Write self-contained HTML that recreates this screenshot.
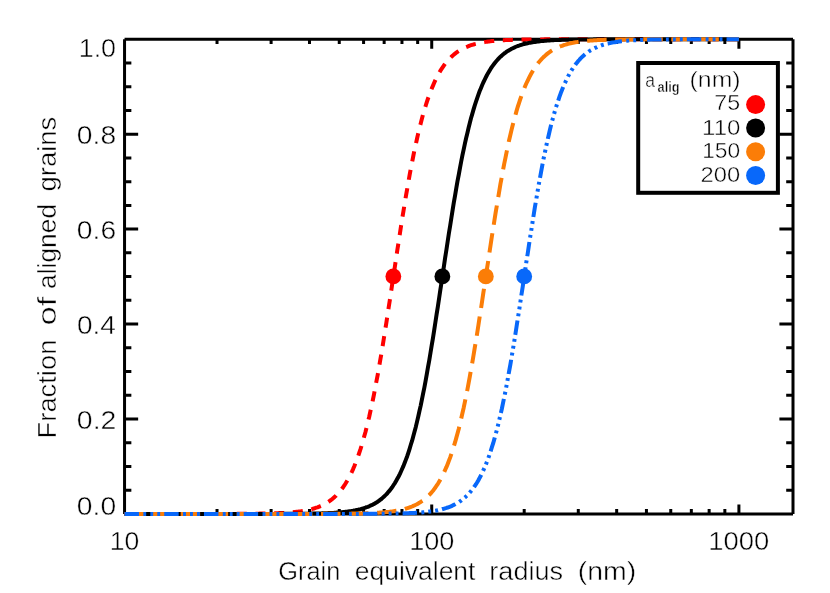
<!DOCTYPE html>
<html><head><meta charset="utf-8"><title>chart</title>
<style>
html,body{margin:0;padding:0;background:#fff;}
body{width:830px;height:593px;overflow:hidden;}
svg{display:block;will-change:transform;}
text{font-family:"Liberation Sans",sans-serif;fill:#000;stroke:#fff;stroke-width:0.45px;}
</style></head><body>
<svg width="830" height="593" viewBox="0 0 830 593">
<rect x="0" y="0" width="830" height="593" fill="#fff"/>
<path d="M124.55 39.25H793.0M793.0 39.25V513.9M793.0 513.9H124.55M124.55 513.9V39.25" fill="none" stroke="#000" stroke-width="3"/>
<path d="M217.02 513.9v-4.8M217.02 39.25v4.8M271.11 513.9v-4.8M271.11 39.25v4.8M309.49 513.9v-4.8M309.49 39.25v4.8M339.26 513.9v-4.8M339.26 39.25v4.8M363.58 513.9v-4.8M363.58 39.25v4.8M384.15 513.9v-4.8M384.15 39.25v4.8M401.96 513.9v-4.8M401.96 39.25v4.8M417.67 513.9v-4.8M417.67 39.25v4.8M431.73 513.9v-9.5M431.73 39.25v9.5M524.20 513.9v-4.8M524.20 39.25v4.8M578.29 513.9v-4.8M578.29 39.25v4.8M616.67 513.9v-4.8M616.67 39.25v4.8M646.44 513.9v-4.8M646.44 39.25v4.8M670.76 513.9v-4.8M670.76 39.25v4.8M691.33 513.9v-4.8M691.33 39.25v4.8M709.14 513.9v-4.8M709.14 39.25v4.8M724.85 513.9v-4.8M724.85 39.25v4.8M738.91 513.9v-9.5M738.91 39.25v9.5M124.55 490.17h6.8M793.0 490.17h-6.8M124.55 466.43h6.8M793.0 466.43h-6.8M124.55 442.70h6.8M793.0 442.70h-6.8M124.55 418.97h13.6M793.0 418.97h-13.6M124.55 395.24h6.8M793.0 395.24h-6.8M124.55 371.50h6.8M793.0 371.50h-6.8M124.55 347.77h6.8M793.0 347.77h-6.8M124.55 324.04h13.6M793.0 324.04h-13.6M124.55 300.31h6.8M793.0 300.31h-6.8M124.55 276.57h6.8M793.0 276.57h-6.8M124.55 252.84h6.8M793.0 252.84h-6.8M124.55 229.11h13.6M793.0 229.11h-13.6M124.55 205.38h6.8M793.0 205.38h-6.8M124.55 181.64h6.8M793.0 181.64h-6.8M124.55 157.91h6.8M793.0 157.91h-6.8M124.55 134.18h13.6M793.0 134.18h-13.6M124.55 110.45h6.8M793.0 110.45h-6.8M124.55 86.71h6.8M793.0 86.71h-6.8M124.55 62.98h6.8M793.0 62.98h-6.8" stroke="#000" stroke-width="3" fill="none"/>
<path d="M124.5 513.9 L125.8 513.9 L127.0 513.9 L128.2 513.9 L129.5 513.9 L130.7 513.9 L131.9 513.9 L133.2 513.9 L134.4 513.9 L135.6 513.9 L136.8 513.9 L138.1 513.9 L139.3 513.9 L140.5 513.9 L141.8 513.9 L143.0 513.9 L144.2 513.9 L145.4 513.9 L146.7 513.9 L147.9 513.9 L149.1 513.9 L150.4 513.9 L151.6 513.9 L152.8 513.9 L154.0 513.9 L155.3 513.9 L156.5 513.9 L157.7 513.9 L159.0 513.9 L160.2 513.9 L161.4 513.9 L162.6 513.9 L163.9 513.9 L165.1 513.9 L166.3 513.9 L167.6 513.9 L168.8 513.9 L170.0 513.9 L171.2 513.9 L172.5 513.9 L173.7 513.9 L174.9 513.9 L176.2 513.9 L177.4 513.9 L178.6 513.9 L179.8 513.9 L181.1 513.9 L182.3 513.9 L183.5 513.9 L184.8 513.9 L186.0 513.9 L187.2 513.9 L188.4 513.9 L189.7 513.9 L190.9 513.9 L192.1 513.9 L193.4 513.9 L194.6 513.9 L195.8 513.9 L197.0 513.9 L198.3 513.9 L199.5 513.9 L200.7 513.9 L202.0 513.9 L203.2 513.9 L204.4 513.9 L205.6 513.9 L206.9 513.9 L208.1 513.9 L209.3 513.9 L210.6 513.9 L211.8 513.9 L213.0 513.9 L214.2 513.9 L215.5 513.9 L216.7 513.9 L217.9 513.9 L219.2 513.9 L220.4 513.9 L221.6 513.9 L222.8 513.9 L224.1 513.9 L225.3 513.9 L226.5 513.9 L227.8 513.9 L229.0 513.9 L230.2 513.9 L231.4 513.8 L232.7 513.8 L233.9 513.8 L235.1 513.8 L236.4 513.8 L237.6 513.8 L238.8 513.8 L240.0 513.8 L241.3 513.8 L242.5 513.8 L243.7 513.8 L245.0 513.8 L246.2 513.8 L247.4 513.8 L248.7 513.8 L249.9 513.7 L251.1 513.7 L252.3 513.7 L253.6 513.7 L254.8 513.7 L256.0 513.7 L257.3 513.7 L258.5 513.7 L259.7 513.6 L260.9 513.6 L262.2 513.6 L263.4 513.6 L264.6 513.6 L265.9 513.5 L267.1 513.5 L268.3 513.5 L269.5 513.4 L270.8 513.4 L272.0 513.4 L273.2 513.3 L274.5 513.3 L275.7 513.3 L276.9 513.2 L278.1 513.2 L279.4 513.1 L280.6 513.1 L281.8 513.0 L283.1 512.9 L284.3 512.9 L285.5 512.8 L286.7 512.7 L288.0 512.6 L289.2 512.5 L290.4 512.4 L291.7 512.3 L292.9 512.2 L294.1 512.1 L295.3 512.0 L296.6 511.8 L297.8 511.7 L299.0 511.5 L300.3 511.4 L301.5 511.2 L302.7 511.0 L303.9 510.8 L305.2 510.6 L306.4 510.3 L307.6 510.1 L308.9 509.8 L310.1 509.5 L311.3 509.2 L312.5 508.9 L313.8 508.5 L315.0 508.1 L316.2 507.7 L317.5 507.3 L318.7 506.8 L319.9 506.3 L321.1 505.8 L322.4 505.2 L323.6 504.6 L324.8 504.0 L326.1 503.3 L327.3 502.6 L328.5 501.8 L329.7 500.9 L331.0 500.0 L332.2 499.1 L333.4 498.0 L334.7 496.9 L335.9 495.8 L337.1 494.5 L338.3 493.2 L339.6 491.8 L340.8 490.3 L342.0 488.7 L343.3 487.0 L344.5 485.2 L345.7 483.3 L346.9 481.3 L348.2 479.1 L349.4 476.8 L350.6 474.4 L351.9 471.8 L353.1 469.1 L354.3 466.2 L355.5 463.1 L356.8 459.9 L358.0 456.5 L359.2 453.0 L360.5 449.2 L361.7 445.3 L362.9 441.1 L364.1 436.8 L365.4 432.2 L366.6 427.4 L367.8 422.4 L369.1 417.2 L370.3 411.8 L371.5 406.2 L372.8 400.3 L374.0 394.3 L375.2 388.0 L376.4 381.5 L377.7 374.8 L378.9 367.9 L380.1 360.9 L381.4 353.6 L382.6 346.2 L383.8 338.7 L385.0 331.0 L386.3 323.2 L387.5 315.2 L388.7 307.2 L390.0 299.1 L391.2 291.0 L392.4 282.8 L393.6 274.7 L394.9 266.5 L396.1 258.3 L397.3 250.2 L398.6 242.2 L399.8 234.2 L401.0 226.3 L402.2 218.5 L403.5 210.9 L404.7 203.4 L405.9 196.1 L407.2 188.9 L408.4 182.0 L409.6 175.2 L410.8 168.6 L412.1 162.2 L413.3 156.0 L414.5 150.0 L415.8 144.3 L417.0 138.8 L418.2 133.4 L419.4 128.3 L420.7 123.5 L421.9 118.8 L423.1 114.3 L424.4 110.1 L425.6 106.0 L426.8 102.1 L428.0 98.5 L429.3 95.0 L430.5 91.7 L431.7 88.6 L433.0 85.6 L434.2 82.8 L435.4 80.1 L436.6 77.6 L437.9 75.3 L439.1 73.0 L440.3 70.9 L441.6 68.9 L442.8 67.1 L444.0 65.3 L445.2 63.7 L446.5 62.1 L447.7 60.7 L448.9 59.3 L450.2 58.0 L451.4 56.8 L452.6 55.7 L453.8 54.6 L455.1 53.6 L456.3 52.7 L457.5 51.8 L458.8 51.0 L460.0 50.2 L461.2 49.5 L462.4 48.9 L463.7 48.2 L464.9 47.6 L466.1 47.1 L467.4 46.6 L468.6 46.1 L469.8 45.6 L471.0 45.2 L472.3 44.8 L473.5 44.5 L474.7 44.1 L476.0 43.8 L477.2 43.5 L478.4 43.2 L479.6 43.0 L480.9 42.7 L482.1 42.5 L483.3 42.3 L484.6 42.1 L485.8 41.9 L487.0 41.7 L488.3 41.5 L489.5 41.4 L490.7 41.2 L491.9 41.1 L493.2 41.0 L494.4 40.9 L495.6 40.8 L496.9 40.7 L498.1 40.6 L499.3 40.5 L500.5 40.4 L501.8 40.3 L503.0 40.3 L504.2 40.2 L505.5 40.1 L506.7 40.1 L507.9 40.0 L509.1 40.0 L510.4 39.9 L511.6 39.9 L512.8 39.8 L514.1 39.8 L515.3 39.8 L516.5 39.7 L517.7 39.7 L519.0 39.7 L520.2 39.6 L521.4 39.6 L522.7 39.6 L523.9 39.6 L525.1 39.5 L526.3 39.5 L527.6 39.5 L528.8 39.5 L530.0 39.5 L531.3 39.5 L532.5 39.4 L533.7 39.4 L534.9 39.4 L536.2 39.4 L537.4 39.4 L538.6 39.4 L539.9 39.4 L541.1 39.4 L542.3 39.4 L543.5 39.4 L544.8 39.3 L546.0 39.3 L547.2 39.3 L548.5 39.3 L549.7 39.3 L550.9 39.3 L552.1 39.3 L553.4 39.3 L554.6 39.3 L555.8 39.3 L557.1 39.3 L558.3 39.3 L559.5 39.3 L560.7 39.3 L562.0 39.3 L563.2 39.3 L564.4 39.3 L565.7 39.3 L566.9 39.3 L568.1 39.3 L569.3 39.3 L570.6 39.3 L571.8 39.3 L573.0 39.3 L574.3 39.3 L575.5 39.3 L576.7 39.3 L577.9 39.3 L579.2 39.3 L580.4 39.3 L581.6 39.3 L582.9 39.3 L584.1 39.3 L585.3 39.3 L586.5 39.3 L587.8 39.3 L589.0 39.3 L590.2 39.3 L591.5 39.3 L592.7 39.3 L593.9 39.3 L595.1 39.3 L596.4 39.3 L597.6 39.3 L598.8 39.3 L600.1 39.3 L601.3 39.3 L602.5 39.3 L603.7 39.3 L605.0 39.3 L606.2 39.3 L607.4 39.3 L608.7 39.3 L609.9 39.3 L611.1 39.3 L612.4 39.3 L613.6 39.3 L614.8 39.3 L616.0 39.3 L617.3 39.3 L618.5 39.3 L619.7 39.3 L621.0 39.3 L622.2 39.3 L623.4 39.3 L624.6 39.3 L625.9 39.3 L627.1 39.3 L628.3 39.3 L629.6 39.3 L630.8 39.3 L632.0 39.3 L633.2 39.3 L634.5 39.3 L635.7 39.3 L636.9 39.3 L638.2 39.3 L639.4 39.3 L640.6 39.3 L641.8 39.3 L643.1 39.3 L644.3 39.3 L645.5 39.3 L646.8 39.3 L648.0 39.3 L649.2 39.3 L650.4 39.3 L651.7 39.3 L652.9 39.3 L654.1 39.3 L655.4 39.3 L656.6 39.3 L657.8 39.3 L659.0 39.3 L660.3 39.3 L661.5 39.3 L662.7 39.3 L664.0 39.3 L665.2 39.3 L666.4 39.3 L667.6 39.3 L668.9 39.3 L670.1 39.3 L671.3 39.3 L672.6 39.3 L673.8 39.3 L675.0 39.3 L676.2 39.3 L677.5 39.3 L678.7 39.3 L679.9 39.3 L681.2 39.3 L682.4 39.3 L683.6 39.3 L684.8 39.3 L686.1 39.3 L687.3 39.3 L688.5 39.3 L689.8 39.3 L691.0 39.3 L692.2 39.3 L693.4 39.3 L694.7 39.3 L695.9 39.3 L697.1 39.3 L698.4 39.3 L699.6 39.3 L700.8 39.3 L702.0 39.3 L703.3 39.3 L704.5 39.3 L705.7 39.3 L707.0 39.3 L708.2 39.3 L709.4 39.3 L710.6 39.3 L711.9 39.3 L713.1 39.3 L714.3 39.3 L715.6 39.3 L716.8 39.3 L718.0 39.3 L719.2 39.3 L720.5 39.3 L721.7 39.3 L722.9 39.3 L724.2 39.3 L725.4 39.3 L726.6 39.3 L727.8 39.3 L729.1 39.3 L730.3 39.3 L731.5 39.3 L732.8 39.3 L734.0 39.3 L735.2 39.3 L736.5 39.3 L737.7 39.3 L738.9 39.3" fill="none" stroke="#ff0000" stroke-width="4.0" stroke-dasharray="10.10 8.61" stroke-linejoin="round"/>
<path d="M124.5 513.9 L125.8 513.9 L127.0 513.9 L128.2 513.9 L129.5 513.9 L130.7 513.9 L131.9 513.9 L133.2 513.9 L134.4 513.9 L135.6 513.9 L136.8 513.9 L138.1 513.9 L139.3 513.9 L140.5 513.9 L141.8 513.9 L143.0 513.9 L144.2 513.9 L145.4 513.9 L146.7 513.9 L147.9 513.9 L149.1 513.9 L150.4 513.9 L151.6 513.9 L152.8 513.9 L154.0 513.9 L155.3 513.9 L156.5 513.9 L157.7 513.9 L159.0 513.9 L160.2 513.9 L161.4 513.9 L162.6 513.9 L163.9 513.9 L165.1 513.9 L166.3 513.9 L167.6 513.9 L168.8 513.9 L170.0 513.9 L171.2 513.9 L172.5 513.9 L173.7 513.9 L174.9 513.9 L176.2 513.9 L177.4 513.9 L178.6 513.9 L179.8 513.9 L181.1 513.9 L182.3 513.9 L183.5 513.9 L184.8 513.9 L186.0 513.9 L187.2 513.9 L188.4 513.9 L189.7 513.9 L190.9 513.9 L192.1 513.9 L193.4 513.9 L194.6 513.9 L195.8 513.9 L197.0 513.9 L198.3 513.9 L199.5 513.9 L200.7 513.9 L202.0 513.9 L203.2 513.9 L204.4 513.9 L205.6 513.9 L206.9 513.9 L208.1 513.9 L209.3 513.9 L210.6 513.9 L211.8 513.9 L213.0 513.9 L214.2 513.9 L215.5 513.9 L216.7 513.9 L217.9 513.9 L219.2 513.9 L220.4 513.9 L221.6 513.9 L222.8 513.9 L224.1 513.9 L225.3 513.9 L226.5 513.9 L227.8 513.9 L229.0 513.9 L230.2 513.9 L231.4 513.9 L232.7 513.9 L233.9 513.9 L235.1 513.9 L236.4 513.9 L237.6 513.9 L238.8 513.9 L240.0 513.9 L241.3 513.9 L242.5 513.9 L243.7 513.9 L245.0 513.9 L246.2 513.9 L247.4 513.9 L248.7 513.9 L249.9 513.9 L251.1 513.9 L252.3 513.9 L253.6 513.9 L254.8 513.9 L256.0 513.9 L257.3 513.9 L258.5 513.9 L259.7 513.9 L260.9 513.9 L262.2 513.9 L263.4 513.9 L264.6 513.9 L265.9 513.9 L267.1 513.9 L268.3 513.9 L269.5 513.9 L270.8 513.9 L272.0 513.9 L273.2 513.9 L274.5 513.9 L275.7 513.9 L276.9 513.9 L278.1 513.9 L279.4 513.8 L280.6 513.8 L281.8 513.8 L283.1 513.8 L284.3 513.8 L285.5 513.8 L286.7 513.8 L288.0 513.8 L289.2 513.8 L290.4 513.8 L291.7 513.8 L292.9 513.8 L294.1 513.8 L295.3 513.8 L296.6 513.8 L297.8 513.8 L299.0 513.7 L300.3 513.7 L301.5 513.7 L302.7 513.7 L303.9 513.7 L305.2 513.7 L306.4 513.7 L307.6 513.7 L308.9 513.6 L310.1 513.6 L311.3 513.6 L312.5 513.6 L313.8 513.6 L315.0 513.5 L316.2 513.5 L317.5 513.5 L318.7 513.4 L319.9 513.4 L321.1 513.4 L322.4 513.3 L323.6 513.3 L324.8 513.3 L326.1 513.2 L327.3 513.2 L328.5 513.1 L329.7 513.1 L331.0 513.0 L332.2 512.9 L333.4 512.9 L334.7 512.8 L335.9 512.7 L337.1 512.6 L338.3 512.5 L339.6 512.4 L340.8 512.3 L342.0 512.2 L343.3 512.1 L344.5 512.0 L345.7 511.8 L346.9 511.7 L348.2 511.5 L349.4 511.3 L350.6 511.2 L351.9 511.0 L353.1 510.8 L354.3 510.5 L355.5 510.3 L356.8 510.0 L358.0 509.8 L359.2 509.5 L360.5 509.2 L361.7 508.8 L362.9 508.5 L364.1 508.1 L365.4 507.7 L366.6 507.2 L367.8 506.8 L369.1 506.3 L370.3 505.7 L371.5 505.2 L372.8 504.6 L374.0 503.9 L375.2 503.2 L376.4 502.5 L377.7 501.7 L378.9 500.8 L380.1 499.9 L381.4 499.0 L382.6 497.9 L383.8 496.8 L385.0 495.6 L386.3 494.4 L387.5 493.1 L388.7 491.6 L390.0 490.1 L391.2 488.5 L392.4 486.8 L393.6 485.0 L394.9 483.1 L396.1 481.0 L397.3 478.8 L398.6 476.5 L399.8 474.1 L401.0 471.5 L402.2 468.8 L403.5 465.9 L404.7 462.8 L405.9 459.6 L407.2 456.2 L408.4 452.6 L409.6 448.8 L410.8 444.8 L412.1 440.7 L413.3 436.3 L414.5 431.7 L415.8 426.9 L417.0 421.9 L418.2 416.7 L419.4 411.2 L420.7 405.6 L421.9 399.7 L423.1 393.6 L424.4 387.3 L425.6 380.8 L426.8 374.1 L428.0 367.2 L429.3 360.1 L430.5 352.8 L431.7 345.4 L433.0 337.8 L434.2 330.1 L435.4 322.3 L436.6 314.4 L437.9 306.4 L439.1 298.3 L440.3 290.1 L441.6 282.0 L442.8 273.8 L444.0 265.6 L445.2 257.4 L446.5 249.3 L447.7 241.3 L448.9 233.3 L450.2 225.5 L451.4 217.7 L452.6 210.1 L453.8 202.6 L455.1 195.3 L456.3 188.2 L457.5 181.2 L458.8 174.5 L460.0 167.9 L461.2 161.5 L462.4 155.4 L463.7 149.4 L464.9 143.7 L466.1 138.2 L467.4 132.9 L468.6 127.8 L469.8 122.9 L471.0 118.3 L472.3 113.9 L473.5 109.6 L474.7 105.6 L476.0 101.7 L477.2 98.1 L478.4 94.6 L479.6 91.3 L480.9 88.2 L482.1 85.3 L483.3 82.5 L484.6 79.9 L485.8 77.4 L487.0 75.0 L488.3 72.8 L489.5 70.7 L490.7 68.7 L491.9 66.9 L493.2 65.1 L494.4 63.5 L495.6 62.0 L496.9 60.5 L498.1 59.2 L499.3 57.9 L500.5 56.7 L501.8 55.6 L503.0 54.5 L504.2 53.5 L505.5 52.6 L506.7 51.7 L507.9 50.9 L509.1 50.2 L510.4 49.5 L511.6 48.8 L512.8 48.2 L514.1 47.6 L515.3 47.0 L516.5 46.5 L517.7 46.0 L519.0 45.6 L520.2 45.2 L521.4 44.8 L522.7 44.4 L523.9 44.1 L525.1 43.8 L526.3 43.5 L527.6 43.2 L528.8 42.9 L530.0 42.7 L531.3 42.5 L532.5 42.2 L533.7 42.0 L534.9 41.9 L536.2 41.7 L537.4 41.5 L538.6 41.4 L539.9 41.2 L541.1 41.1 L542.3 41.0 L543.5 40.9 L544.8 40.8 L546.0 40.7 L547.2 40.6 L548.5 40.5 L549.7 40.4 L550.9 40.3 L552.1 40.2 L553.4 40.2 L554.6 40.1 L555.8 40.1 L557.1 40.0 L558.3 40.0 L559.5 39.9 L560.7 39.9 L562.0 39.8 L563.2 39.8 L564.4 39.8 L565.7 39.7 L566.9 39.7 L568.1 39.7 L569.3 39.6 L570.6 39.6 L571.8 39.6 L573.0 39.6 L574.3 39.5 L575.5 39.5 L576.7 39.5 L577.9 39.5 L579.2 39.5 L580.4 39.5 L581.6 39.4 L582.9 39.4 L584.1 39.4 L585.3 39.4 L586.5 39.4 L587.8 39.4 L589.0 39.4 L590.2 39.4 L591.5 39.4 L592.7 39.4 L593.9 39.3 L595.1 39.3 L596.4 39.3 L597.6 39.3 L598.8 39.3 L600.1 39.3 L601.3 39.3 L602.5 39.3 L603.7 39.3 L605.0 39.3 L606.2 39.3 L607.4 39.3 L608.7 39.3 L609.9 39.3 L611.1 39.3 L612.4 39.3 L613.6 39.3 L614.8 39.3 L616.0 39.3 L617.3 39.3 L618.5 39.3 L619.7 39.3 L621.0 39.3 L622.2 39.3 L623.4 39.3 L624.6 39.3 L625.9 39.3 L627.1 39.3 L628.3 39.3 L629.6 39.3 L630.8 39.3 L632.0 39.3 L633.2 39.3 L634.5 39.3 L635.7 39.3 L636.9 39.3 L638.2 39.3 L639.4 39.3 L640.6 39.3 L641.8 39.3 L643.1 39.3 L644.3 39.3 L645.5 39.3 L646.8 39.3 L648.0 39.3 L649.2 39.3 L650.4 39.3 L651.7 39.3 L652.9 39.3 L654.1 39.3 L655.4 39.3 L656.6 39.3 L657.8 39.3 L659.0 39.3 L660.3 39.3 L661.5 39.3 L662.7 39.3 L664.0 39.3 L665.2 39.3 L666.4 39.3 L667.6 39.3 L668.9 39.3 L670.1 39.3 L671.3 39.3 L672.6 39.3 L673.8 39.3 L675.0 39.3 L676.2 39.3 L677.5 39.3 L678.7 39.3 L679.9 39.3 L681.2 39.3 L682.4 39.3 L683.6 39.3 L684.8 39.3 L686.1 39.3 L687.3 39.3 L688.5 39.3 L689.8 39.3 L691.0 39.3 L692.2 39.3 L693.4 39.3 L694.7 39.3 L695.9 39.3 L697.1 39.3 L698.4 39.3 L699.6 39.3 L700.8 39.3 L702.0 39.3 L703.3 39.3 L704.5 39.3 L705.7 39.3 L707.0 39.3 L708.2 39.3 L709.4 39.3 L710.6 39.3 L711.9 39.3 L713.1 39.3 L714.3 39.3 L715.6 39.3 L716.8 39.3 L718.0 39.3 L719.2 39.3 L720.5 39.3 L721.7 39.3 L722.9 39.3 L724.2 39.3 L725.4 39.3 L726.6 39.3 L727.8 39.3 L729.1 39.3 L730.3 39.3 L731.5 39.3 L732.8 39.3 L734.0 39.3 L735.2 39.3 L736.5 39.3 L737.7 39.3 L738.9 39.3" fill="none" stroke="#000000" stroke-width="4.0" stroke-linejoin="round"/>
<path d="M124.5 513.9 L125.8 513.9 L127.0 513.9 L128.2 513.9 L129.5 513.9 L130.7 513.9 L131.9 513.9 L133.2 513.9 L134.4 513.9 L135.6 513.9 L136.8 513.9 L138.1 513.9 L139.3 513.9 L140.5 513.9 L141.8 513.9 L143.0 513.9 L144.2 513.9 L145.4 513.9 L146.7 513.9 L147.9 513.9 L149.1 513.9 L150.4 513.9 L151.6 513.9 L152.8 513.9 L154.0 513.9 L155.3 513.9 L156.5 513.9 L157.7 513.9 L159.0 513.9 L160.2 513.9 L161.4 513.9 L162.6 513.9 L163.9 513.9 L165.1 513.9 L166.3 513.9 L167.6 513.9 L168.8 513.9 L170.0 513.9 L171.2 513.9 L172.5 513.9 L173.7 513.9 L174.9 513.9 L176.2 513.9 L177.4 513.9 L178.6 513.9 L179.8 513.9 L181.1 513.9 L182.3 513.9 L183.5 513.9 L184.8 513.9 L186.0 513.9 L187.2 513.9 L188.4 513.9 L189.7 513.9 L190.9 513.9 L192.1 513.9 L193.4 513.9 L194.6 513.9 L195.8 513.9 L197.0 513.9 L198.3 513.9 L199.5 513.9 L200.7 513.9 L202.0 513.9 L203.2 513.9 L204.4 513.9 L205.6 513.9 L206.9 513.9 L208.1 513.9 L209.3 513.9 L210.6 513.9 L211.8 513.9 L213.0 513.9 L214.2 513.9 L215.5 513.9 L216.7 513.9 L217.9 513.9 L219.2 513.9 L220.4 513.9 L221.6 513.9 L222.8 513.9 L224.1 513.9 L225.3 513.9 L226.5 513.9 L227.8 513.9 L229.0 513.9 L230.2 513.9 L231.4 513.9 L232.7 513.9 L233.9 513.9 L235.1 513.9 L236.4 513.9 L237.6 513.9 L238.8 513.9 L240.0 513.9 L241.3 513.9 L242.5 513.9 L243.7 513.9 L245.0 513.9 L246.2 513.9 L247.4 513.9 L248.7 513.9 L249.9 513.9 L251.1 513.9 L252.3 513.9 L253.6 513.9 L254.8 513.9 L256.0 513.9 L257.3 513.9 L258.5 513.9 L259.7 513.9 L260.9 513.9 L262.2 513.9 L263.4 513.9 L264.6 513.9 L265.9 513.9 L267.1 513.9 L268.3 513.9 L269.5 513.9 L270.8 513.9 L272.0 513.9 L273.2 513.9 L274.5 513.9 L275.7 513.9 L276.9 513.9 L278.1 513.9 L279.4 513.9 L280.6 513.9 L281.8 513.9 L283.1 513.9 L284.3 513.9 L285.5 513.9 L286.7 513.9 L288.0 513.9 L289.2 513.9 L290.4 513.9 L291.7 513.9 L292.9 513.9 L294.1 513.9 L295.3 513.9 L296.6 513.9 L297.8 513.9 L299.0 513.9 L300.3 513.9 L301.5 513.9 L302.7 513.9 L303.9 513.9 L305.2 513.9 L306.4 513.9 L307.6 513.9 L308.9 513.9 L310.1 513.9 L311.3 513.9 L312.5 513.9 L313.8 513.9 L315.0 513.9 L316.2 513.9 L317.5 513.9 L318.7 513.9 L319.9 513.9 L321.1 513.9 L322.4 513.9 L323.6 513.8 L324.8 513.8 L326.1 513.8 L327.3 513.8 L328.5 513.8 L329.7 513.8 L331.0 513.8 L332.2 513.8 L333.4 513.8 L334.7 513.8 L335.9 513.8 L337.1 513.8 L338.3 513.8 L339.6 513.8 L340.8 513.8 L342.0 513.8 L343.3 513.7 L344.5 513.7 L345.7 513.7 L346.9 513.7 L348.2 513.7 L349.4 513.7 L350.6 513.7 L351.9 513.6 L353.1 513.6 L354.3 513.6 L355.5 513.6 L356.8 513.6 L358.0 513.5 L359.2 513.5 L360.5 513.5 L361.7 513.5 L362.9 513.4 L364.1 513.4 L365.4 513.4 L366.6 513.3 L367.8 513.3 L369.1 513.2 L370.3 513.2 L371.5 513.1 L372.8 513.1 L374.0 513.0 L375.2 512.9 L376.4 512.9 L377.7 512.8 L378.9 512.7 L380.1 512.6 L381.4 512.6 L382.6 512.5 L383.8 512.4 L385.0 512.3 L386.3 512.1 L387.5 512.0 L388.7 511.9 L390.0 511.7 L391.2 511.6 L392.4 511.4 L393.6 511.2 L394.9 511.0 L396.1 510.8 L397.3 510.6 L398.6 510.4 L399.8 510.1 L401.0 509.9 L402.2 509.6 L403.5 509.3 L404.7 509.0 L405.9 508.6 L407.2 508.2 L408.4 507.8 L409.6 507.4 L410.8 507.0 L412.1 506.5 L413.3 505.9 L414.5 505.4 L415.8 504.8 L417.0 504.2 L418.2 503.5 L419.4 502.7 L420.7 502.0 L421.9 501.1 L423.1 500.3 L424.4 499.3 L425.6 498.3 L426.8 497.2 L428.0 496.1 L429.3 494.9 L430.5 493.6 L431.7 492.2 L433.0 490.7 L434.2 489.1 L435.4 487.5 L436.6 485.7 L437.9 483.8 L439.1 481.8 L440.3 479.7 L441.6 477.4 L442.8 475.0 L444.0 472.5 L445.2 469.8 L446.5 466.9 L447.7 463.9 L448.9 460.8 L450.2 457.4 L451.4 453.9 L452.6 450.2 L453.8 446.3 L455.1 442.2 L456.3 437.9 L457.5 433.4 L458.8 428.7 L460.0 423.7 L461.2 418.6 L462.4 413.2 L463.7 407.7 L464.9 401.9 L466.1 395.8 L467.4 389.6 L468.6 383.2 L469.8 376.6 L471.0 369.7 L472.3 362.7 L473.5 355.5 L474.7 348.1 L476.0 340.6 L477.2 333.0 L478.4 325.2 L479.6 317.3 L480.9 309.3 L482.1 301.2 L483.3 293.1 L484.6 284.9 L485.8 276.8 L487.0 268.6 L488.3 260.4 L489.5 252.3 L490.7 244.2 L491.9 236.2 L493.2 228.3 L494.4 220.5 L495.6 212.9 L496.9 205.3 L498.1 198.0 L499.3 190.8 L500.5 183.7 L501.8 176.9 L503.0 170.3 L504.2 163.8 L505.5 157.6 L506.7 151.6 L507.9 145.8 L509.1 140.2 L510.4 134.8 L511.6 129.6 L512.8 124.7 L514.1 120.0 L515.3 115.5 L516.5 111.1 L517.7 107.0 L519.0 103.1 L520.2 99.4 L521.4 95.9 L522.7 92.5 L523.9 89.3 L525.1 86.3 L526.3 83.5 L527.6 80.8 L528.8 78.3 L530.0 75.9 L531.3 73.6 L532.5 71.5 L533.7 69.4 L534.9 67.6 L536.2 65.8 L537.4 64.1 L538.6 62.5 L539.9 61.0 L541.1 59.7 L542.3 58.3 L543.5 57.1 L544.8 56.0 L546.0 54.9 L547.2 53.9 L548.5 52.9 L549.7 52.0 L550.9 51.2 L552.1 50.4 L553.4 49.7 L554.6 49.0 L555.8 48.4 L557.1 47.8 L558.3 47.2 L559.5 46.7 L560.7 46.2 L562.0 45.8 L563.2 45.3 L564.4 44.9 L565.7 44.6 L566.9 44.2 L568.1 43.9 L569.3 43.6 L570.6 43.3 L571.8 43.0 L573.0 42.8 L574.3 42.5 L575.5 42.3 L576.7 42.1 L577.9 41.9 L579.2 41.7 L580.4 41.6 L581.6 41.4 L582.9 41.3 L584.1 41.1 L585.3 41.0 L586.5 40.9 L587.8 40.8 L589.0 40.7 L590.2 40.6 L591.5 40.5 L592.7 40.4 L593.9 40.3 L595.1 40.3 L596.4 40.2 L597.6 40.1 L598.8 40.1 L600.1 40.0 L601.3 40.0 L602.5 39.9 L603.7 39.9 L605.0 39.8 L606.2 39.8 L607.4 39.8 L608.7 39.7 L609.9 39.7 L611.1 39.7 L612.4 39.6 L613.6 39.6 L614.8 39.6 L616.0 39.6 L617.3 39.5 L618.5 39.5 L619.7 39.5 L621.0 39.5 L622.2 39.5 L623.4 39.5 L624.6 39.4 L625.9 39.4 L627.1 39.4 L628.3 39.4 L629.6 39.4 L630.8 39.4 L632.0 39.4 L633.2 39.4 L634.5 39.4 L635.7 39.4 L636.9 39.3 L638.2 39.3 L639.4 39.3 L640.6 39.3 L641.8 39.3 L643.1 39.3 L644.3 39.3 L645.5 39.3 L646.8 39.3 L648.0 39.3 L649.2 39.3 L650.4 39.3 L651.7 39.3 L652.9 39.3 L654.1 39.3 L655.4 39.3 L656.6 39.3 L657.8 39.3 L659.0 39.3 L660.3 39.3 L661.5 39.3 L662.7 39.3 L664.0 39.3 L665.2 39.3 L666.4 39.3 L667.6 39.3 L668.9 39.3 L670.1 39.3 L671.3 39.3 L672.6 39.3 L673.8 39.3 L675.0 39.3 L676.2 39.3 L677.5 39.3 L678.7 39.3 L679.9 39.3 L681.2 39.3 L682.4 39.3 L683.6 39.3 L684.8 39.3 L686.1 39.3 L687.3 39.3 L688.5 39.3 L689.8 39.3 L691.0 39.3 L692.2 39.3 L693.4 39.3 L694.7 39.3 L695.9 39.3 L697.1 39.3 L698.4 39.3 L699.6 39.3 L700.8 39.3 L702.0 39.3 L703.3 39.3 L704.5 39.3 L705.7 39.3 L707.0 39.3 L708.2 39.3 L709.4 39.3 L710.6 39.3 L711.9 39.3 L713.1 39.3 L714.3 39.3 L715.6 39.3 L716.8 39.3 L718.0 39.3 L719.2 39.3 L720.5 39.3 L721.7 39.3 L722.9 39.3 L724.2 39.3 L725.4 39.3 L726.6 39.3 L727.8 39.3 L729.1 39.3 L730.3 39.3 L731.5 39.3 L732.8 39.3 L734.0 39.3 L735.2 39.3 L736.5 39.3 L737.7 39.3 L738.9 39.3" fill="none" stroke="#fb7d07" stroke-width="4.0" stroke-dasharray="19.50 8.57" stroke-linejoin="round"/>
<path d="M124.5 513.9 L125.8 513.9 L127.0 513.9 L128.2 513.9 L129.5 513.9 L130.7 513.9 L131.9 513.9 L133.2 513.9 L134.4 513.9 L135.6 513.9 L136.8 513.9 L138.1 513.9 L139.3 513.9 L140.5 513.9 L141.8 513.9 L143.0 513.9 L144.2 513.9 L145.4 513.9 L146.7 513.9 L147.9 513.9 L149.1 513.9 L150.4 513.9 L151.6 513.9 L152.8 513.9 L154.0 513.9 L155.3 513.9 L156.5 513.9 L157.7 513.9 L159.0 513.9 L160.2 513.9 L161.4 513.9 L162.6 513.9 L163.9 513.9 L165.1 513.9 L166.3 513.9 L167.6 513.9 L168.8 513.9 L170.0 513.9 L171.2 513.9 L172.5 513.9 L173.7 513.9 L174.9 513.9 L176.2 513.9 L177.4 513.9 L178.6 513.9 L179.8 513.9 L181.1 513.9 L182.3 513.9 L183.5 513.9 L184.8 513.9 L186.0 513.9 L187.2 513.9 L188.4 513.9 L189.7 513.9 L190.9 513.9 L192.1 513.9 L193.4 513.9 L194.6 513.9 L195.8 513.9 L197.0 513.9 L198.3 513.9 L199.5 513.9 L200.7 513.9 L202.0 513.9 L203.2 513.9 L204.4 513.9 L205.6 513.9 L206.9 513.9 L208.1 513.9 L209.3 513.9 L210.6 513.9 L211.8 513.9 L213.0 513.9 L214.2 513.9 L215.5 513.9 L216.7 513.9 L217.9 513.9 L219.2 513.9 L220.4 513.9 L221.6 513.9 L222.8 513.9 L224.1 513.9 L225.3 513.9 L226.5 513.9 L227.8 513.9 L229.0 513.9 L230.2 513.9 L231.4 513.9 L232.7 513.9 L233.9 513.9 L235.1 513.9 L236.4 513.9 L237.6 513.9 L238.8 513.9 L240.0 513.9 L241.3 513.9 L242.5 513.9 L243.7 513.9 L245.0 513.9 L246.2 513.9 L247.4 513.9 L248.7 513.9 L249.9 513.9 L251.1 513.9 L252.3 513.9 L253.6 513.9 L254.8 513.9 L256.0 513.9 L257.3 513.9 L258.5 513.9 L259.7 513.9 L260.9 513.9 L262.2 513.9 L263.4 513.9 L264.6 513.9 L265.9 513.9 L267.1 513.9 L268.3 513.9 L269.5 513.9 L270.8 513.9 L272.0 513.9 L273.2 513.9 L274.5 513.9 L275.7 513.9 L276.9 513.9 L278.1 513.9 L279.4 513.9 L280.6 513.9 L281.8 513.9 L283.1 513.9 L284.3 513.9 L285.5 513.9 L286.7 513.9 L288.0 513.9 L289.2 513.9 L290.4 513.9 L291.7 513.9 L292.9 513.9 L294.1 513.9 L295.3 513.9 L296.6 513.9 L297.8 513.9 L299.0 513.9 L300.3 513.9 L301.5 513.9 L302.7 513.9 L303.9 513.9 L305.2 513.9 L306.4 513.9 L307.6 513.9 L308.9 513.9 L310.1 513.9 L311.3 513.9 L312.5 513.9 L313.8 513.9 L315.0 513.9 L316.2 513.9 L317.5 513.9 L318.7 513.9 L319.9 513.9 L321.1 513.9 L322.4 513.9 L323.6 513.9 L324.8 513.9 L326.1 513.9 L327.3 513.9 L328.5 513.9 L329.7 513.9 L331.0 513.9 L332.2 513.9 L333.4 513.9 L334.7 513.9 L335.9 513.9 L337.1 513.9 L338.3 513.9 L339.6 513.9 L340.8 513.9 L342.0 513.9 L343.3 513.9 L344.5 513.9 L345.7 513.9 L346.9 513.9 L348.2 513.9 L349.4 513.9 L350.6 513.9 L351.9 513.9 L353.1 513.9 L354.3 513.9 L355.5 513.9 L356.8 513.9 L358.0 513.9 L359.2 513.9 L360.5 513.9 L361.7 513.8 L362.9 513.8 L364.1 513.8 L365.4 513.8 L366.6 513.8 L367.8 513.8 L369.1 513.8 L370.3 513.8 L371.5 513.8 L372.8 513.8 L374.0 513.8 L375.2 513.8 L376.4 513.8 L377.7 513.8 L378.9 513.8 L380.1 513.8 L381.4 513.7 L382.6 513.7 L383.8 513.7 L385.0 513.7 L386.3 513.7 L387.5 513.7 L388.7 513.7 L390.0 513.6 L391.2 513.6 L392.4 513.6 L393.6 513.6 L394.9 513.6 L396.1 513.5 L397.3 513.5 L398.6 513.5 L399.8 513.5 L401.0 513.4 L402.2 513.4 L403.5 513.4 L404.7 513.3 L405.9 513.3 L407.2 513.2 L408.4 513.2 L409.6 513.1 L410.8 513.1 L412.1 513.0 L413.3 513.0 L414.5 512.9 L415.8 512.8 L417.0 512.7 L418.2 512.7 L419.4 512.6 L420.7 512.5 L421.9 512.4 L423.1 512.3 L424.4 512.2 L425.6 512.0 L426.8 511.9 L428.0 511.8 L429.3 511.6 L430.5 511.4 L431.7 511.3 L433.0 511.1 L434.2 510.9 L435.4 510.7 L436.6 510.4 L437.9 510.2 L439.1 509.9 L440.3 509.7 L441.6 509.4 L442.8 509.0 L444.0 508.7 L445.2 508.3 L446.5 507.9 L447.7 507.5 L448.9 507.1 L450.2 506.6 L451.4 506.1 L452.6 505.5 L453.8 504.9 L455.1 504.3 L456.3 503.6 L457.5 502.9 L458.8 502.2 L460.0 501.3 L461.2 500.5 L462.4 499.5 L463.7 498.5 L464.9 497.5 L466.1 496.4 L467.4 495.2 L468.6 493.9 L469.8 492.5 L471.0 491.1 L472.3 489.5 L473.5 487.9 L474.7 486.1 L476.0 484.2 L477.2 482.3 L478.4 480.2 L479.6 477.9 L480.9 475.6 L482.1 473.1 L483.3 470.4 L484.6 467.6 L485.8 464.7 L487.0 461.5 L488.3 458.2 L489.5 454.8 L490.7 451.1 L491.9 447.2 L493.2 443.2 L494.4 438.9 L495.6 434.5 L496.9 429.8 L498.1 424.9 L499.3 419.8 L500.5 414.5 L501.8 409.0 L503.0 403.2 L504.2 397.3 L505.5 391.1 L506.7 384.7 L507.9 378.1 L509.1 371.3 L510.4 364.4 L511.6 357.2 L512.8 349.9 L514.1 342.4 L515.3 334.8 L516.5 327.0 L517.7 319.2 L519.0 311.2 L520.2 303.1 L521.4 295.0 L522.7 286.9 L523.9 278.7 L525.1 270.5 L526.3 262.3 L527.6 254.2 L528.8 246.1 L530.0 238.1 L531.3 230.2 L532.5 222.4 L533.7 214.7 L534.9 207.1 L536.2 199.7 L537.4 192.4 L538.6 185.4 L539.9 178.5 L541.1 171.8 L542.3 165.3 L543.5 159.0 L544.8 153.0 L546.0 147.1 L547.2 141.5 L548.5 136.0 L549.7 130.8 L550.9 125.8 L552.1 121.1 L553.4 116.5 L554.6 112.1 L555.8 108.0 L557.1 104.0 L558.3 100.3 L559.5 96.7 L560.7 93.3 L562.0 90.1 L563.2 87.0 L564.4 84.1 L565.7 81.4 L566.9 78.8 L568.1 76.4 L569.3 74.1 L570.6 71.9 L571.8 69.9 L573.0 68.0 L574.3 66.2 L575.5 64.5 L576.7 62.9 L577.9 61.4 L579.2 60.0 L580.4 58.6 L581.6 57.4 L582.9 56.2 L584.1 55.1 L585.3 54.1 L586.5 53.2 L587.8 52.3 L589.0 51.4 L590.2 50.6 L591.5 49.9 L592.7 49.2 L593.9 48.5 L595.1 47.9 L596.4 47.4 L597.6 46.8 L598.8 46.3 L600.1 45.9 L601.3 45.4 L602.5 45.0 L603.7 44.6 L605.0 44.3 L606.2 44.0 L607.4 43.6 L608.7 43.4 L609.9 43.1 L611.1 42.8 L612.4 42.6 L613.6 42.4 L614.8 42.2 L616.0 42.0 L617.3 41.8 L618.5 41.6 L619.7 41.5 L621.0 41.3 L622.2 41.2 L623.4 41.1 L624.6 40.9 L625.9 40.8 L627.1 40.7 L628.3 40.6 L629.6 40.5 L630.8 40.4 L632.0 40.4 L633.2 40.3 L634.5 40.2 L635.7 40.2 L636.9 40.1 L638.2 40.0 L639.4 40.0 L640.6 39.9 L641.8 39.9 L643.1 39.8 L644.3 39.8 L645.5 39.8 L646.8 39.7 L648.0 39.7 L649.2 39.7 L650.4 39.6 L651.7 39.6 L652.9 39.6 L654.1 39.6 L655.4 39.6 L656.6 39.5 L657.8 39.5 L659.0 39.5 L660.3 39.5 L661.5 39.5 L662.7 39.4 L664.0 39.4 L665.2 39.4 L666.4 39.4 L667.6 39.4 L668.9 39.4 L670.1 39.4 L671.3 39.4 L672.6 39.4 L673.8 39.4 L675.0 39.3 L676.2 39.3 L677.5 39.3 L678.7 39.3 L679.9 39.3 L681.2 39.3 L682.4 39.3 L683.6 39.3 L684.8 39.3 L686.1 39.3 L687.3 39.3 L688.5 39.3 L689.8 39.3 L691.0 39.3 L692.2 39.3 L693.4 39.3 L694.7 39.3 L695.9 39.3 L697.1 39.3 L698.4 39.3 L699.6 39.3 L700.8 39.3 L702.0 39.3 L703.3 39.3 L704.5 39.3 L705.7 39.3 L707.0 39.3 L708.2 39.3 L709.4 39.3 L710.6 39.3 L711.9 39.3 L713.1 39.3 L714.3 39.3 L715.6 39.3 L716.8 39.3 L718.0 39.3 L719.2 39.3 L720.5 39.3 L721.7 39.3 L722.9 39.3 L724.2 39.3 L725.4 39.3 L726.6 39.3 L727.8 39.3 L729.1 39.3 L730.3 39.3 L731.5 39.3 L732.8 39.3 L734.0 39.3 L735.2 39.3 L736.5 39.3 L737.7 39.3 L738.9 39.3" fill="none" stroke="#0868fa" stroke-width="4.0" stroke-dasharray="14.44 4.38 2.89 4.08 2.89 4.08 2.89 4.08" stroke-linejoin="round"/>
<circle cx="393.35" cy="276.38" r="7.9" fill="#ff0000"/>
<circle cx="442.37" cy="276.38" r="7.9" fill="#000000"/>
<circle cx="485.82" cy="276.38" r="7.9" fill="#fb7d07"/>
<circle cx="524.20" cy="276.38" r="7.9" fill="#0868fa"/>
<rect x="638.2" y="63.0" width="139.7" height="129.8" fill="#fff" stroke="#000" stroke-width="4"/>
<circle cx="755.6" cy="104.6" r="9.5" fill="#ff0000"/>
<circle cx="755.6" cy="128.0" r="9.5" fill="#000000"/>
<circle cx="755.6" cy="151.79999999999998" r="9.5" fill="#fb7d07"/>
<circle cx="755.6" cy="175.5" r="9.5" fill="#0868fa"/>
<text transform="translate(714.34,110.00) scale(1.0757,1)" font-size="21.6">75</text>
<text transform="translate(702.08,134.80) scale(1.1117,1)" font-size="21.6">110</text>
<text transform="translate(702.18,158.40) scale(1.0544,1)" font-size="21.6">150</text>
<text transform="translate(700.61,181.90) scale(1.0988,1)" font-size="21.6">200</text>
<text transform="translate(645.20,87.00) scale(0.8750,1)" font-size="20.0" stroke="none">a</text>
<text transform="translate(657.62,92.40) scale(0.8664,1)" font-size="14.8" font-weight="bold" stroke="none">alig</text>
<text transform="translate(689.61,87.00) scale(1.1490,1)" font-size="21.6">(nm)</text>
<text transform="translate(76.87,514.75) scale(1.1033,1)" font-size="25.6">0.0</text>
<text transform="translate(76.86,429.17) scale(1.1118,1)" font-size="25.6">0.2</text>
<text transform="translate(76.88,334.24) scale(1.0949,1)" font-size="25.6">0.4</text>
<text transform="translate(76.87,239.31) scale(1.1033,1)" font-size="25.6">0.6</text>
<text transform="translate(76.87,144.38) scale(1.1033,1)" font-size="25.6">0.8</text>
<text transform="translate(78.70,56.65) scale(1.0504,1)" font-size="25.6">1.0</text>
<text transform="translate(109.77,550.15) scale(1.0377,1)" font-size="25.6">10</text>
<text transform="translate(409.23,550.15) scale(1.0585,1)" font-size="25.6">100</text>
<text transform="translate(708.31,550.15) scale(1.0714,1)" font-size="25.6">1000</text>
<text transform="translate(278.33,580.40) scale(1.0065,1)" font-size="25.2">Grain</text>
<text transform="translate(354.84,580.40) scale(1.0497,1)" font-size="25.2">equivalent</text>
<text transform="translate(489.30,580.40) scale(1.0754,1)" font-size="25.2">radius</text>
<text transform="translate(577.69,580.40) scale(1.1288,1)" font-size="25.2">(nm)</text>
<text transform="translate(55.60,438.39) rotate(-90) scale(1.0853,1)" font-size="25.2">Fraction</text>
<text transform="translate(55.60,325.38) rotate(-90) scale(1.3713,1)" font-size="25.2">of</text>
<text transform="translate(55.60,288.96) rotate(-90) scale(1.0468,1)" font-size="25.2">aligned</text>
<text transform="translate(55.60,191.50) rotate(-90) scale(1.0916,1)" font-size="25.2">grains</text>
</svg></body></html>
